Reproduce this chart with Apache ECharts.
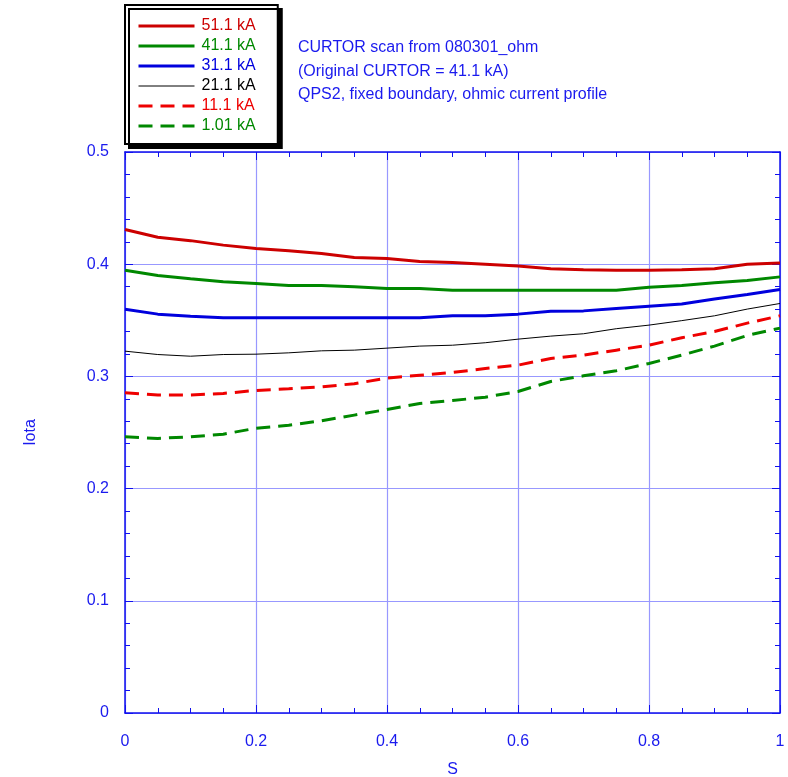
<!DOCTYPE html>
<html>
<head>
<meta charset="utf-8">
<script src="https://cdn.jsdelivr.net/npm/echarts@6/dist/echarts.min.js"></script>
<style>
html,body{margin:0;padding:0;background:#fff;overflow:hidden;}
#chart{width:788px;height:777px;}
</style>
</head>
<body>
<div id="chart"></div>
<script>
const sValues = [0, 0.05, 0.1, 0.15, 0.2, 0.25, 0.3, 0.35, 0.4, 0.45, 0.5, 0.55, 0.6, 0.65, 0.7, 0.75, 0.8, 0.85, 0.9, 0.95, 1.0];
const iota511 = [0.431, 0.424, 0.421, 0.417, 0.414, 0.412, 0.4095, 0.406, 0.405, 0.4025, 0.4015, 0.400, 0.3985, 0.396, 0.395, 0.3947, 0.3947, 0.395, 0.396, 0.400, 0.401];
const iota411 = [0.3947, 0.390, 0.387, 0.3843, 0.3828, 0.381, 0.381, 0.3798, 0.3783, 0.3783, 0.3768, 0.3768, 0.3768, 0.3768, 0.3768, 0.3768, 0.3795, 0.381, 0.3834, 0.3855, 0.3887];
const iota311 = [0.3599, 0.3555, 0.3537, 0.3522, 0.3522, 0.3522, 0.3522, 0.3522, 0.3522, 0.3522, 0.354, 0.354, 0.3555, 0.358, 0.3584, 0.3605, 0.3625, 0.3645, 0.369, 0.373, 0.3774];
const iota211 = [0.3225, 0.3195, 0.318, 0.3195, 0.3198, 0.321, 0.3228, 0.3234, 0.3252, 0.327, 0.3278, 0.330, 0.3332, 0.3359, 0.338, 0.3425, 0.3457, 0.3497, 0.354, 0.360, 0.365];
const iota111 = [0.2854, 0.2835, 0.2835, 0.2848, 0.2875, 0.289, 0.2907, 0.2935, 0.2985, 0.301, 0.3035, 0.307, 0.310, 0.316, 0.319, 0.3234, 0.3278, 0.3345, 0.340, 0.3475, 0.354];
const iota101 = [0.2462, 0.2447, 0.2462, 0.2485, 0.2538, 0.2565, 0.2605, 0.2655, 0.2705, 0.2759, 0.2785, 0.2815, 0.2865, 0.2955, 0.3005, 0.305, 0.3115, 0.319, 0.327, 0.3365, 0.343];
const seriesNames = ['51.1 kA', '41.1 kA', '31.1 kA', '21.1 kA', '11.1 kA', '1.01 kA'];
const seriesColors = ['#cc0000', '#008800', '#0000dd', '#000000', '#ee0000', '#008800'];
const seriesWidths = [3, 3, 3, 1, 3, 3];
const seriesDashed = [false, false, false, false, true, true];
const seriesValues = [iota511, iota411, iota311, iota211, iota111, iota101];
const noteLines = ['CURTOR scan from 080301_ohm', '(Original CURTOR = 41.1 kA)', 'QPS2, fixed boundary, ohmic current profile'];
const xTicks = [0, 0.2, 0.4, 0.6, 0.8, 1];
const yTicks = [0, 0.1, 0.2, 0.3, 0.4, 0.5];

const axisBlue = '#1010ee';
const gridBlue = '#9898ff';
const textBlue = '#1a1aee';
const FONT = 'Liberation Sans, Arial, sans-serif';

const chart = echarts.init(document.getElementById('chart'), null, {renderer: 'canvas', width: 788, height: 777});

function fmt(v) { return String(Math.round(v * 10) / 10); }

const baseAxis = {
  axisLine: {show: true, onZero: false, lineStyle: {color: axisBlue, width: 1.5}},
  axisTick: {show: true, inside: true, length: 8, lineStyle: {color: axisBlue, width: 1}},
  minorTick: {show: true, length: 5, lineStyle: {color: axisBlue, width: 1}},
  splitLine: {show: false},
  axisLabel: {show: false}
};

const option = {
  animation: false,
  backgroundColor: '#ffffff',
  grid: {left: 125, width: 655, top: 152, height: 561, containLabel: false, outerBoundsMode: 'none'},
  xAxis: [
    Object.assign({}, baseAxis, {
      type: 'value', min: 0, max: 1, interval: 0.2, position: 'bottom',
      minorTick: Object.assign({}, baseAxis.minorTick, {splitNumber: 4}),
      splitLine: {show: true, lineStyle: {color: gridBlue, width: 1.2}},
      axisLabel: {show: true, color: textBlue, fontSize: 16, fontFamily: FONT, margin: 21,
        formatter: function (v) { return xTicks.indexOf(Math.round(v * 10) / 10) >= 0 ? fmt(v) : ''; }},
      name: 'S', nameLocation: 'middle', nameGap: 49,
      nameTextStyle: {color: textBlue, fontSize: 16, fontFamily: FONT}
    }),
    Object.assign({}, baseAxis, {
      type: 'value', min: 0, max: 1, interval: 0.2, position: 'top',
      minorTick: Object.assign({}, baseAxis.minorTick, {splitNumber: 4})
    })
  ],
  yAxis: [
    Object.assign({}, baseAxis, {
      type: 'value', min: 0, max: 0.5, interval: 0.1, position: 'left',
      minorTick: Object.assign({}, baseAxis.minorTick, {splitNumber: 5}),
      splitLine: {show: true, lineStyle: {color: gridBlue, width: 1.2}},
      axisLabel: {show: true, color: textBlue, fontSize: 16, fontFamily: FONT, margin: 16,
        formatter: function (v) { return yTicks.indexOf(Math.round(v * 10) / 10) >= 0 ? fmt(v) : ''; }},
      name: 'Iota', nameLocation: 'middle', nameGap: 86, nameRotate: 90,
      nameTextStyle: {color: textBlue, fontSize: 16, fontFamily: FONT}
    }),
    Object.assign({}, baseAxis, {
      type: 'value', min: 0, max: 0.5, interval: 0.1, position: 'right',
      minorTick: Object.assign({}, baseAxis.minorTick, {splitNumber: 5})
    })
  ],
  legend: {
    orient: 'vertical',
    left: 125, top: 5,
    padding: [13, 22, 10, 12],
    itemWidth: 56, itemHeight: 14, itemGap: 4,
    backgroundColor: '#ffffff',
    borderColor: '#000000', borderWidth: 2,
    shadowColor: '#000000', shadowBlur: 0, shadowOffsetX: 4, shadowOffsetY: 4,
    selectedMode: false,
    itemStyle: {opacity: 0},
    data: seriesNames.map(function (n, i) {
      return {name: n, textStyle: {color: seriesColors[i]},
        lineStyle: {width: seriesWidths[i], color: seriesColors[i], type: seriesDashed[i] ? [14, 8] : 'solid'}};
    }),
    textStyle: {fontSize: 16, fontFamily: FONT, padding: [0, 0, 0, 2]}
  },
  graphic: noteLines.map(function (t, i) {
    return {type: 'text', left: 298, top: 40 + i * 23.5,
      style: {text: t, fill: textBlue, font: '16px ' + FONT}};
  }),
  series: seriesNames.map(function (n, i) {
    return {
      name: n, type: 'line', xAxisIndex: 0, yAxisIndex: 0,
      symbol: 'none', showSymbol: false, smooth: false,
      color: seriesColors[i],
      lineStyle: {color: seriesColors[i], width: seriesWidths[i],
        type: seriesDashed[i] ? [14, 8] : 'solid'},
      data: sValues.map(function (s, k) { return [s, seriesValues[i][k]]; }),
      z: 3
    };
  })
};
chart.setOption(option);
</script>
</body>
</html>
